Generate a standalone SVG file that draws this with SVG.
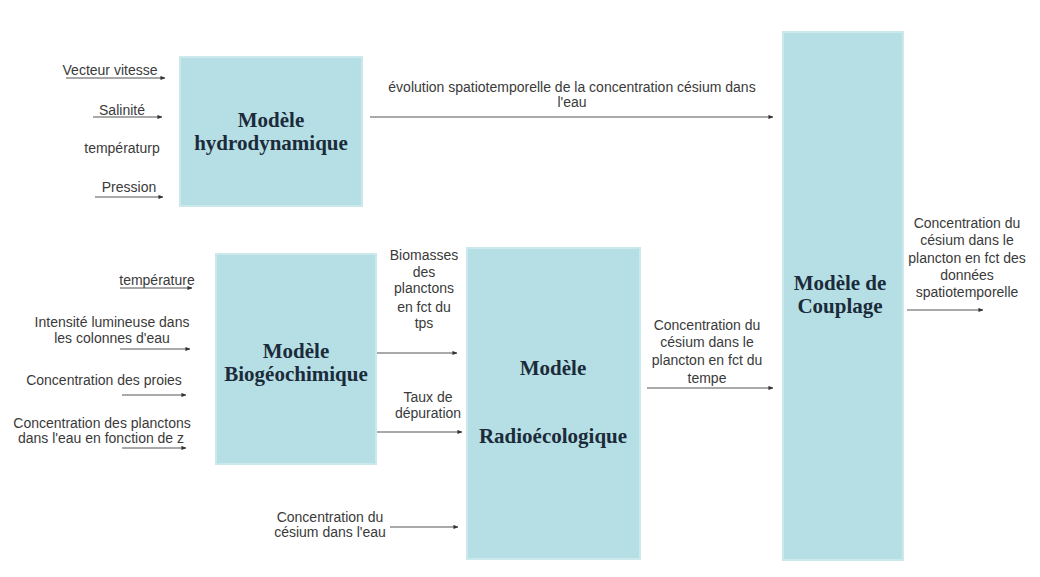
<svg xmlns="http://www.w3.org/2000/svg" width="1040" height="577" viewBox="0 0 1040 577">
<defs>
<marker id="ah" viewBox="0 0 6 6" refX="5.5" refY="3" markerWidth="5" markerHeight="5" orient="auto" markerUnits="userSpaceOnUse">
<path d="M0,0.5 L6,3 L0,5.5 z" fill="#333"/>
</marker>
<style>
.box{fill:#b5dfe5;stroke:#cbe9ed;stroke-width:2}
.title{font-family:"Liberation Serif","Times New Roman",serif;font-weight:bold;font-size:21px;fill:#1c2b3a;text-anchor:middle}
.lbl{font-family:"Liberation Sans",Arial,sans-serif;font-size:14px;fill:#3a3a3a;text-anchor:middle}
.ln{stroke:#555;stroke-width:1.1;fill:none;marker-end:url(#ah)}
</style>
</defs>
<rect width="1040" height="577" fill="#ffffff"/>

<g id="hydro">
<rect class="box" x="180" y="57" width="182" height="149"/>
<text class="title" x="271" y="127">Modèle</text>
<text class="title" x="271" y="150">hydrodynamique</text>
</g>

<g id="bio">
<rect class="box" x="216" y="254" width="160" height="210"/>
<text class="title" x="296" y="358">Modèle</text>
<text class="title" x="296" y="381">Biogéochimique</text>
</g>

<g id="radio">
<rect class="box" x="467" y="248" width="173" height="311"/>
<text class="title" x="553" y="375">Modèle</text>
<text class="title" x="553" y="443">Radioécologique</text>
</g>

<g id="couplage">
<rect class="box" x="783" y="32" width="120" height="528"/>
<text class="title" x="840" y="290">Modèle de</text>
<text class="title" x="840" y="313">Couplage</text>
</g>

<g id="labels">
<text class="lbl" x="110" y="75">Vecteur vitesse</text>
<text class="lbl" x="122" y="115">Salinité</text>
<text class="lbl" x="122" y="153">températurp</text>
<text class="lbl" x="129" y="192">Pression</text>

<text class="lbl" x="572" y="92">évolution spatiotemporelle de la concentration césium dans</text>
<text class="lbl" x="572" y="107">l'eau</text>

<text class="lbl" x="157" y="285">température</text>
<text class="lbl" x="112" y="327">Intensité lumineuse dans</text>
<text class="lbl" x="112" y="343">les colonnes d'eau</text>
<text class="lbl" x="104" y="385">Concentration des proies</text>
<text class="lbl" x="102" y="428">Concentration des planctons</text>
<text class="lbl" x="101" y="443">dans l'eau en fonction de z</text>

<text class="lbl" x="424" y="260">Biomasses</text>
<text class="lbl" x="424" y="277">des</text>
<text class="lbl" x="424" y="293">planctons</text>
<text class="lbl" x="424" y="312">en fct du</text>
<text class="lbl" x="424" y="328">tps</text>
<text class="lbl" x="428" y="402">Taux de</text>
<text class="lbl" x="428" y="418">dépuration</text>

<text class="lbl" x="330" y="522">Concentration du</text>
<text class="lbl" x="330" y="537">césium dans l'eau</text>

<text class="lbl" x="707" y="330">Concentration du</text>
<text class="lbl" x="707" y="347">césium dans le</text>
<text class="lbl" x="707" y="365">plancton en fct du</text>
<text class="lbl" x="707" y="383">tempe</text>

<text class="lbl" x="967" y="228">Concentration du</text>
<text class="lbl" x="967" y="245">césium dans le</text>
<text class="lbl" x="967" y="263">plancton en fct des</text>
<text class="lbl" x="967" y="280">données</text>
<text class="lbl" x="967" y="297">spatiotemporelle</text>
</g>

<g id="connectors">
<line class="ln" x1="66" y1="78" x2="165" y2="78"/>
<line class="ln" x1="93" y1="117" x2="162" y2="117"/>
<line class="ln" x1="95" y1="197" x2="163" y2="197"/>
<line class="ln" x1="370" y1="117" x2="773" y2="117"/>
<line class="ln" x1="120" y1="288" x2="192" y2="288"/>
<line class="ln" x1="120" y1="349" x2="190" y2="349"/>
<line class="ln" x1="122" y1="395" x2="186" y2="395"/>
<line class="ln" x1="122" y1="448" x2="186" y2="448"/>
<line class="ln" x1="377" y1="353" x2="457" y2="353"/>
<line class="ln" x1="377" y1="432" x2="462" y2="432"/>
<line class="ln" x1="390" y1="527" x2="458" y2="527"/>
<line class="ln" x1="647" y1="388" x2="773" y2="388"/>
<line class="ln" x1="907" y1="310" x2="983" y2="310"/>
</g>
</svg>
